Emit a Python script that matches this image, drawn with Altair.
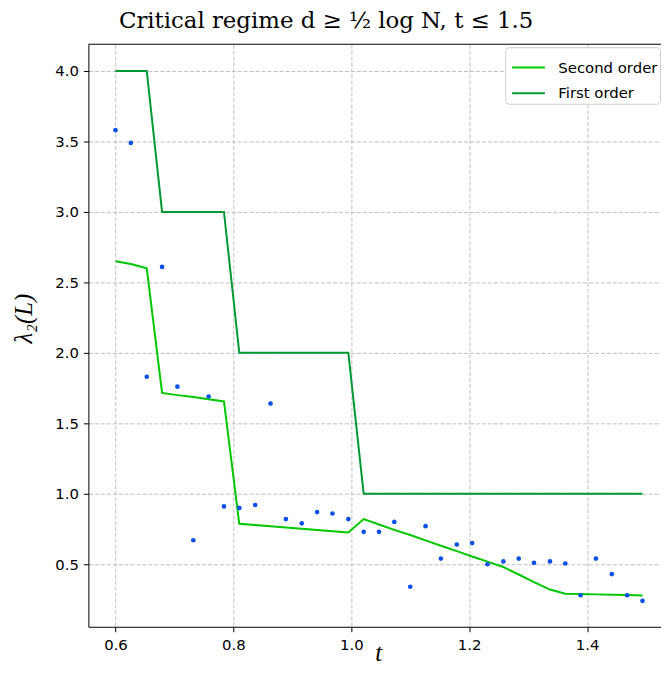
import altair as alt
import pandas as pd

# ---- data ----
t_vals = [0.600, 0.626, 0.653, 0.679, 0.705, 0.732, 0.758, 0.784, 0.810, 0.837,
          0.863, 0.889, 0.916, 0.942, 0.968, 0.995, 1.021, 1.047, 1.073, 1.100,
          1.126, 1.152, 1.179, 1.205, 1.231, 1.258, 1.284, 1.310, 1.337, 1.363,
          1.389, 1.415, 1.442, 1.468, 1.494]

observed = [3.58, 3.49, 1.83, 2.61, 1.76, 0.67, 1.69, 0.91, 0.90, 0.92,
            1.64, 0.82, 0.79, 0.87, 0.86, 0.82, 0.73, 0.73, 0.80, 0.34,
            0.77, 0.54, 0.64, 0.65, 0.50, 0.52, 0.54, 0.51, 0.52, 0.505,
            0.28, 0.54, 0.43, 0.28, 0.24]

first_order = [4, 4, 4, 3, 3, 3, 3, 3, 2, 2,
               2, 2, 2, 2, 2, 2, 1, 1, 1, 1,
               1, 1, 1, 1, 1, 1, 1, 1, 1, 1,
               1, 1, 1, 1, 1]

second_order = [2.65, 2.63, 2.60, 1.716, 1.70, 1.686, 1.67, 1.655, 0.787, 0.778,
                0.769, 0.760, 0.751, 0.743, 0.734, 0.725, 0.82, 0.782, 0.744, 0.707,
                0.669, 0.631, 0.593, 0.555, 0.518, 0.48, 0.427, 0.373, 0.32, 0.29,
                0.288, 0.286, 0.284, 0.281, 0.278]

series_names = ["Second order", "First order"]
series_colors = ["#00c800", "#009933"]
point_color = "#0a50e6"

x_ticks = [0.6, 0.8, 1.0, 1.2, 1.4]
y_ticks = [0.5, 1.0, 1.5, 2.0, 2.5, 3.0, 3.5, 4.0]

df_lines = pd.DataFrame({
    "t": t_vals + t_vals,
    "value": second_order + first_order,
    "series": [series_names[0]] * len(t_vals) + [series_names[1]] * len(t_vals),
})
df_pts = pd.DataFrame({"t": t_vals, "value": observed})

W, H = 577, 587

x_scale = alt.Scale(domain=[0.554, 1.5254], nice=False, zero=False)
y_scale = alt.Scale(domain=[0.056, 4.19], nice=False, zero=False)

x_axis = alt.Axis(values=x_ticks, format=".1f", title="t",
                  titleFont="Liberation Serif", titleFontStyle="italic",
                  titleFontSize=25, titleFontWeight="normal", titleColor="black",
                  titleX=292, titleY=34, titleBaseline="alphabetic", titleAlign="center",
                  labelPadding=6)
y_axis = alt.Axis(values=y_ticks, format=".1f", title="λ₂(L)",
                  titleFont="Liberation Serif", titleFontStyle="italic",
                  titleFontSize=25, titleFontWeight="normal", titleColor="black",
                  titleX=-65, titleY=276, titleAngle=270, titleBaseline="middle",
                  titleAlign="center", labelPadding=5)

lines = alt.Chart(df_lines).mark_line(strokeWidth=2, clip=True).encode(
    x=alt.X("t:Q", scale=x_scale, axis=x_axis),
    y=alt.Y("value:Q", scale=y_scale, axis=y_axis),
    color=alt.Color("series:N",
                    scale=alt.Scale(domain=series_names, range=series_colors),
                    sort=series_names,
                    legend=alt.Legend(title=None, orient="none", legendX=420, legendY=3,
                                      fillColor="white", strokeColor="#cccccc",
                                      cornerRadius=4, padding=2.5, symbolOffset=3,
                                      symbolType="stroke", symbolSize=1090,
                                      symbolStrokeWidth=2, labelFont="DejaVu Sans",
                                      labelFontSize=15, labelColor="black",
                                      labelOffset=12, rowPadding=-2)),
)

points = alt.Chart(df_pts).mark_circle(size=22, color=point_color, opacity=1).encode(
    x=alt.X("t:Q", scale=x_scale),
    y=alt.Y("value:Q", scale=y_scale),
)

top_spine = alt.Chart(pd.DataFrame({"a": [0]})).mark_rule(color="black", strokeWidth=1).encode(
    x=alt.value(0), x2=alt.value(W), y=alt.value(0)
)

chart = alt.layer(lines, points, top_spine).properties(
    width=W, height=H,
    autosize=alt.AutoSizeParams(type="none"),
    padding={"left": 81, "top": 34, "right": 0, "bottom": 36},
    title=alt.TitleParams(text="Critical regime d ≥ ½ log N, t ≤ 1.5",
                          font="DejaVu Serif", fontSize=23, fontWeight="normal",
                          color="black", anchor="middle", dx=-49, offset=11),
).configure_view(stroke=None).configure_axis(
    grid=True, gridColor="#b0b0b0", gridDash=[4, 2], gridWidth=0.8,
    domainColor="black", domainWidth=1, tickColor="black", tickSize=5,
    labelFont="DejaVu Sans", labelFontSize=15, labelColor="black",
)

chart.save("out.html", embed_options={"renderer": "svg", "actions": False})
